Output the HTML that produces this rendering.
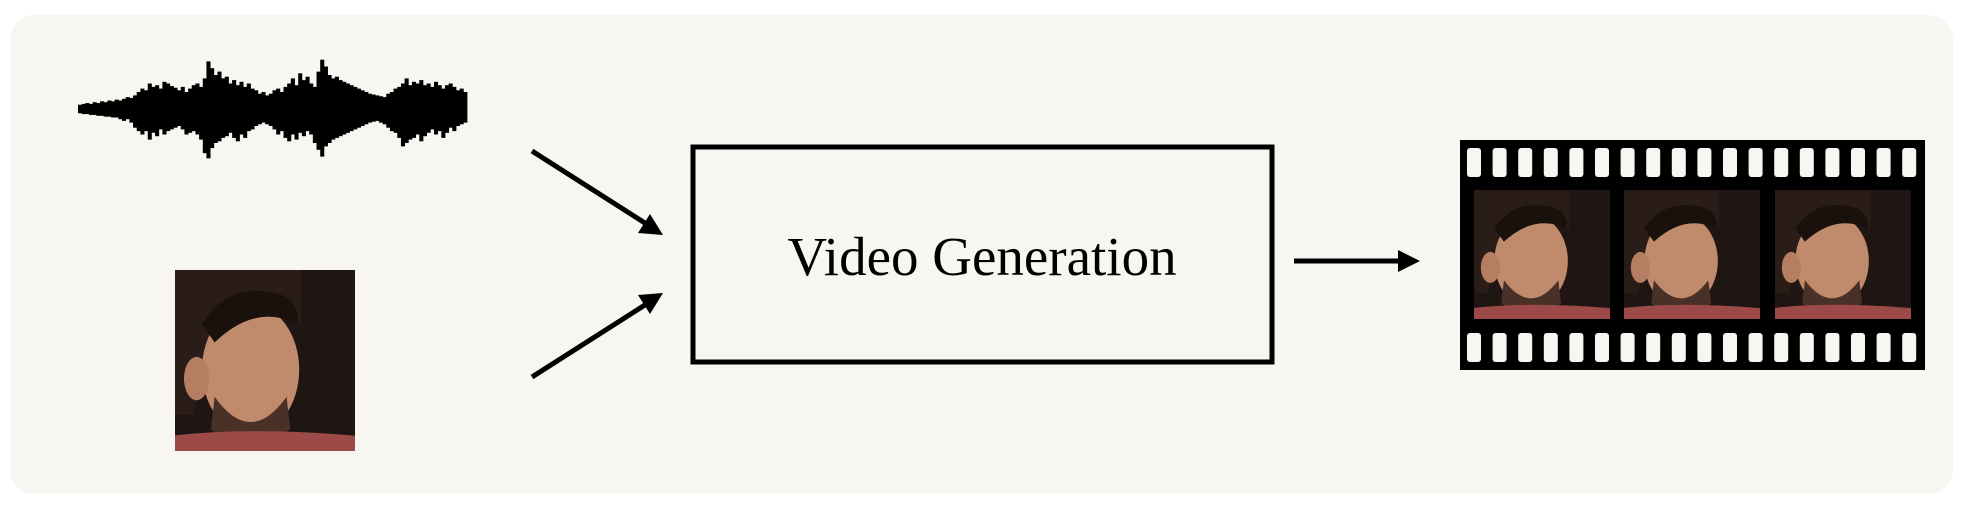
<!DOCTYPE html>
<html><head><meta charset="utf-8"><style>
html,body{margin:0;padding:0;background:#fff;width:1963px;height:505px;overflow:hidden}
svg{display:block}
</style></head><body>
<svg width="1963" height="505" viewBox="0 0 1963 505">
<defs>
<clipPath id="c0"><rect x="175" y="270" width="180" height="181"/></clipPath>
<clipPath id="c1"><rect x="1474" y="190" width="136" height="129"/></clipPath>
<clipPath id="c2"><rect x="1624" y="190" width="136" height="129"/></clipPath>
<clipPath id="c3"><rect x="1775" y="190" width="136" height="129"/></clipPath>
<g id="face">
<rect x="0" y="0" width="100" height="100" fill="#1f1512"/>
<path d="M-5 0 L70 0 L70 30 Q40 20 20 40 L10 80 L-5 80Z" fill="#2a1c16"/>
<ellipse cx="42" cy="55" rx="27" ry="36" fill="#c08a6c"/>
<ellipse cx="12" cy="60" rx="7" ry="12" fill="#b57d61"/>
<path d="M22 70 Q42 98 62 70 L64 88 Q42 104 20 88Z" fill="#4a3127"/>
<path d="M15 30 Q30 5 60 14 Q70 20 68 30 Q45 18 22 40Z" fill="#1a110d"/>
<path d="M-5 92 Q40 86 105 92 L105 105 L-5 105Z" fill="#9b4a48"/>
</g>
</defs>
<rect x="10" y="15" width="1943" height="479" rx="25" fill="#f7f6f1"/>
<g id="wave"></g>
<g clip-path="url(#c0)"><use href="#face" transform="translate(175,270) scale(1.8,1.81)"/></g>
<g stroke="#000" stroke-width="5" fill="none">
<line x1="532" y1="151" x2="648" y2="225"/>
<line x1="532" y1="377" x2="648" y2="303"/>
<line x1="1294" y1="261" x2="1400" y2="261"/>
<rect x="693" y="147" width="579" height="215"/>
</g>
<polygon points="663,235 638,233 650,214" fill="#000"/>
<polygon points="663,293 650,314 638,295" fill="#000"/>
<polygon points="1420,261 1398,250 1398,272" fill="#000"/>
<text x="982" y="275" text-anchor="middle" font-family="Liberation Serif, serif" font-size="55" fill="#000">Video Generation</text>
<g>
<rect x="1460" y="140" width="465" height="230" fill="#000"/>
<g id="holes" fill="#f7f6f1"></g>
<g clip-path="url(#c1)"><use href="#face" transform="translate(1474,190) scale(1.36,1.29)"/></g>
<g clip-path="url(#c2)"><use href="#face" transform="translate(1624,190) scale(1.36,1.29)"/></g>
<g clip-path="url(#c3)"><use href="#face" transform="translate(1775,190) scale(1.36,1.29)"/></g>
</g>
</svg>
<script>
const waveUp=[5,6,7,6,8,7,9,8,10,9,11,10,12,14,13,16,20,24,22,30,26,28,24,32,30,27,25,22,26,20,24,28,30,26,36,56,48,40,44,36,38,30,34,28,32,26,30,24,22,18,20,16,18,22,24,20,26,30,36,28,42,34,38,30,26,44,58,50,40,36,38,34,32,30,28,26,24,22,20,18,17,16,15,14,18,20,24,26,30,36,28,32,30,34,28,30,26,32,28,24,28,30,26,22,24,20];
const waveDn=[5,6,6,7,7,8,8,9,9,10,10,12,14,12,16,22,26,30,26,36,28,32,24,30,26,24,22,20,24,30,28,26,30,36,52,58,46,40,38,34,32,28,34,38,30,34,26,24,20,18,16,18,20,24,30,26,34,38,30,36,28,32,26,30,40,48,56,44,40,36,34,32,30,28,26,24,22,20,18,16,15,14,16,18,22,26,28,34,44,40,36,34,30,38,32,28,24,30,26,34,28,22,26,20,18,16];
const wave=document.getElementById('wave');
const x0=78,x1=467,cy=109,bw=(x1-x0)/waveUp.length;
waveUp.forEach((a,i)=>{
  const d=waveDn[i];
  const r=document.createElementNS('http://www.w3.org/2000/svg','rect');
  
  
  r.setAttribute('x',x0+i*bw);r.setAttribute('width',bw+0.4);
  r.setAttribute('y',cy-a*0.85);r.setAttribute('height',(a+d)*0.85);
  r.setAttribute('fill','#000');
  wave.appendChild(r);
});
const holes=document.getElementById('holes');
for(let i=0;i<18;i++){
  [148,333].forEach(y=>{
    const h=document.createElementNS('http://www.w3.org/2000/svg','rect');
    
    
    h.setAttribute('x',1467+i*25.6);h.setAttribute('y',y);
    h.setAttribute('width',14);h.setAttribute('height',29);h.setAttribute('rx',3);
    holes.appendChild(h);
  });
}
</script>
</body></html>
